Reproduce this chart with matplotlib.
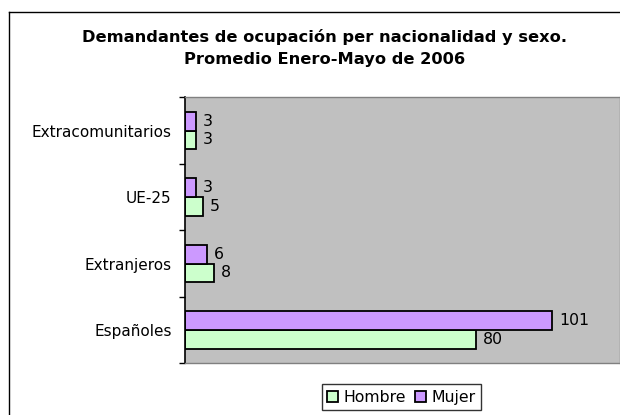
import matplotlib
matplotlib.use("Agg")
import matplotlib.pyplot as plt
from matplotlib.lines import Line2D
import numpy as np

categories = ["Españoles", "Extranjeros", "UE-25", "Extracomunitarios"]
hombre = [80, 8, 5, 3]
mujer = [101, 6, 3, 3]
series_names = ["Hombre", "Mujer"]
title_lines = ["Demandantes de ocupación per nacionalidad y sexo.",
               "Promedio Enero-Mayo de 2006"]

W, H = 620, 415
fig = plt.figure(figsize=(W / 100, H / 100), dpi=100)
plt.rcParams['font.family'] = ['DejaVu Sans']

ax_left, ax_right = 184.7, 620.0
ax_top, ax_bottom = 97.3, 363.3
ax = fig.add_axes([ax_left / W, (H - ax_bottom) / H,
                   (ax_right - ax_left) / W, (ax_bottom - ax_top) / H])
ax.set_facecolor("#C0C0C0")

y = np.arange(len(categories))
bh = 0.28
bars_h = ax.barh(y - bh, hombre, height=bh, align='edge', color="#CCFFCC",
                 edgecolor="black", linewidth=1.3, label=series_names[0])
bars_m = ax.barh(y, mujer, height=bh, align='edge', color="#CC99FF",
                 edgecolor="black", linewidth=1.3, label=series_names[1])

for bars, vals in ((bars_h, hombre), (bars_m, mujer)):
    for b, v in zip(bars, vals):
        ax.annotate(str(v), (b.get_width(), b.get_y() + b.get_height() / 2),
                    xytext=(5, 0), textcoords='offset points',
                    ha='left', va='center', fontsize=11.3, color='black')

ax.set_xlim(0, 119.75)
ax.set_ylim(-0.5, len(categories) - 0.5)
ax.set_xticks([])
ax.set_yticks(np.arange(-0.5, len(categories), 1.0))
ax.set_yticklabels([])
ax.set_yticks(y, minor=True)
ax.set_yticklabels(categories, minor=True, fontsize=11)
ax.tick_params(axis='y', which='major', direction='out', length=4, width=1.0, color='black')
ax.tick_params(axis='y', which='minor', length=0, pad=9.4)

for s in ('top', 'bottom', 'right'):
    ax.spines[s].set_color('#808080')
    ax.spines[s].set_linewidth(1.0)
ax.spines['left'].set_color('black')
ax.spines['left'].set_linewidth(1.2)

# Title
fig.text(325 / W, (H - 41.7) / H, title_lines[0], ha='center', va='baseline',
         fontsize=11.7, fontweight='bold')
fig.text(324.5 / W, (H - 64) / H, title_lines[1], ha='center', va='baseline',
         fontsize=11.7, fontweight='bold')

# Chart border
bx, by = 9 / W, (H - 11.7) / H
fig.add_artist(Line2D([bx, bx], [-0.01, by], transform=fig.transFigure,
                      color='black', linewidth=1.0))
fig.add_artist(Line2D([bx, 1.01], [by, by], transform=fig.transFigure,
                      color='black', linewidth=1.0))

leg = fig.legend(handles=[bars_h, bars_m], labels=series_names, ncol=2,
                 loc='center', bbox_to_anchor=(401.5 / W, (H - 397) / H),
                 fontsize=11.3, frameon=True, fancybox=False, shadow=False,
                 handlelength=0.7, handleheight=0.7, handletextpad=0.35,
                 columnspacing=0.6, borderpad=0.35, borderaxespad=0)
leg.get_frame().set_edgecolor('black')
leg.get_frame().set_linewidth(1.0)

fig.savefig("out.png", dpi=100)
